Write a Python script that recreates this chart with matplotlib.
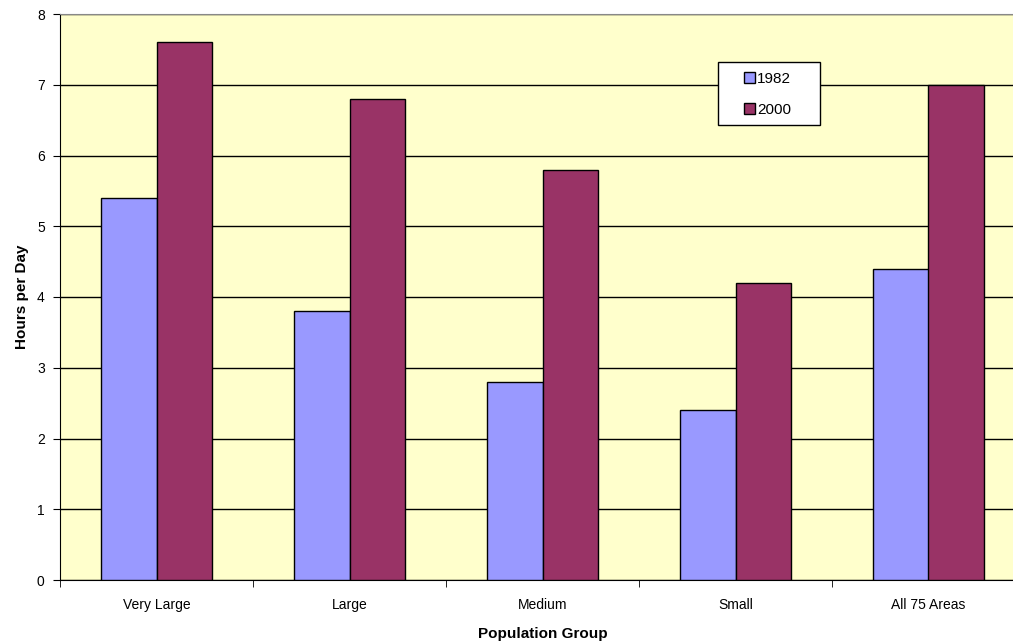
import numpy as np
import matplotlib.pyplot as plt
from matplotlib.patches import Patch, Rectangle

# hours per day by population group
groups = ['Very Large', 'Large', 'Medium', 'Small', 'All 75 Areas']
hours_1982 = [5.4, 3.8, 2.8, 2.4, 4.4]
hours_2000 = [7.6, 6.8, 5.8, 4.2, 7.0]

plt.rcParams['font.family'] = ['Liberation Sans', 'DejaVu Sans']

fig = plt.figure(figsize=(10.13, 6.43), dpi=100)
# plot area runs off the right edge a bit
ax = fig.add_axes([60/1013, 63/643, 965/1013, 566/643])
ax.set_facecolor('#FFFFCC')

x = np.arange(len(groups))
w = 0.29
ax.bar(x - w/2, hours_1982, w, color='#9999FF', edgecolor='black', linewidth=1, zorder=3)
ax.bar(x + w/2, hours_2000, w, color='#993366', edgecolor='black', linewidth=1, zorder=3)

ax.set_xlim(-0.5, len(groups) - 0.5)
ax.set_ylim(0, 8)
ax.set_yticks(range(9))
ax.yaxis.grid(True, color='black', linewidth=1, zorder=0)
ax.set_xticks(x)
ax.set_xticklabels(groups, fontsize=10)
ax.set_xticks(np.arange(-0.5, len(groups)), minor=True)
ax.tick_params(axis='x', which='major', length=0, pad=13)
ax.tick_params(axis='x', which='minor', length=5, direction='out')
ax.tick_params(axis='y', length=5, direction='out', labelsize=10, pad=6)

ax.spines['top'].set_color('#888888')
ax.spines['right'].set_visible(False)
ax.spines['left'].set_color('black')
ax.spines['bottom'].set_color('black')

ax.set_xlabel('Population Group', fontsize=11, fontweight='bold', labelpad=11)
ax.set_ylabel('Hours per Day', fontsize=11, fontweight='bold', labelpad=6)

# legend box drawn by hand so it can be wider than its contents
box = Rectangle((0.6819, 0.8039), 0.1057, 0.1113, transform=ax.transAxes,
                facecolor='white', edgecolor='black', linewidth=1, zorder=5)
ax.add_patch(box)
handles = [Patch(facecolor='#9999FF', edgecolor='black', label='1982'),
           Patch(facecolor='#993366', edgecolor='black', label='2000')]
leg = ax.legend(handles=handles, loc='upper left', bbox_to_anchor=(0.7088, 0.8980),
                fontsize=11, frameon=False, handlelength=0.75, handleheight=0.75,
                handletextpad=0.1, borderpad=0, labelspacing=1.1, borderaxespad=0)
leg.set_zorder(6)

fig.savefig('out.png', dpi=100)
